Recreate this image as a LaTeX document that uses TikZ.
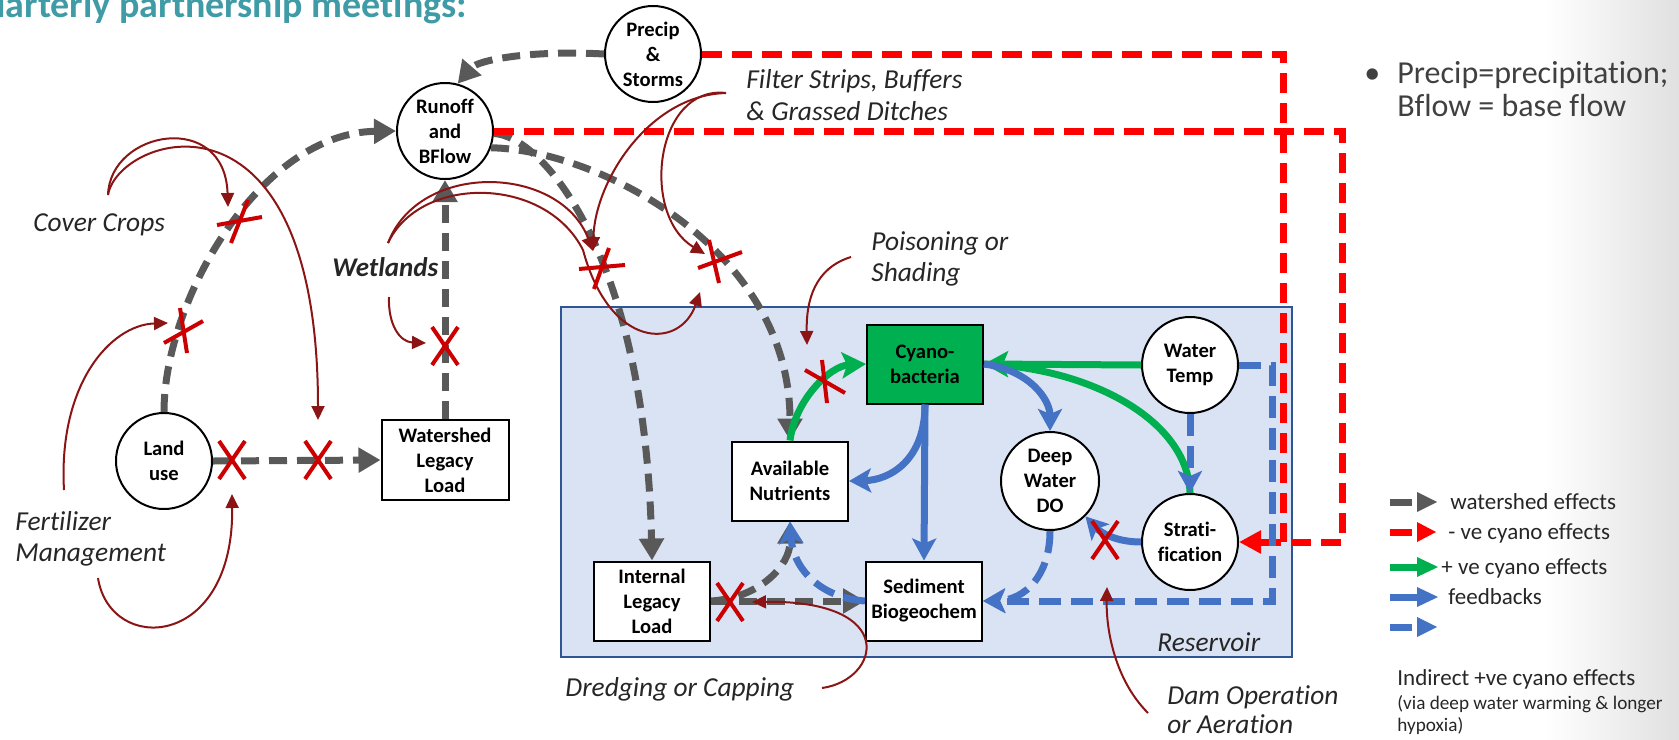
\documentclass[tikz,border=0pt]{standalone}
\usepackage{fontspec}
\setmainfont{Carlito}[Ligatures={NoCommon}]
\usetikzlibrary{arrows.meta}
\definecolor{wsgray}{RGB}{89,89,89}
\definecolor{negred}{RGB}{255,0,0}
\definecolor{posgreen}{RGB}{0,176,80}
\definecolor{fbblue}{RGB}{68,114,196}
\definecolor{mgmtred}{RGB}{139,21,21}
\definecolor{xred}{RGB}{204,0,0}
\definecolor{resfill}{RGB}{218,227,243}
\definecolor{resline}{RGB}{47,85,151}
\definecolor{titleteal}{RGB}{63,155,166}
\newcommand\dgnode{\fontsize{10.3pt}{12.5pt}\selectfont\bfseries}
\newcommand\dglbl{\fontsize{13.7pt}{15.5pt}\selectfont\itshape}
\newcommand\dgleg{\fontsize{11.5pt}{13pt}\selectfont}
\begin{document}
\begin{tikzpicture}[x=0.5pt,y=-0.5pt,
  circ/.style={circle, draw=black, line width=1pt, fill=white, minimum size=48pt, inner sep=0pt, align=center, font=\dgnode},
  box/.style={rectangle, draw=black, line width=1pt, fill=white, minimum width=58pt, minimum height=39.5pt, inner sep=0pt, align=center, font=\dgnode},
  wsarrow/.style={draw=wsgray, line width=3.5pt, dash pattern=on 9pt off 5pt, -{Triangle[length=11pt,width=12pt]}},
  negdash/.style={draw=negred, line width=3.5pt, dash pattern=on 10pt off 5pt},
  negarrow/.style={negdash, -{Triangle[length=11pt,width=11pt]}},
  posline/.style={draw=posgreen, line width=3.5pt},
  posarrow/.style={posline, -{Stealth[length=12pt,width=13pt,inset=2.5pt]}},
  fbarrow/.style={draw=fbblue, line width=3.5pt, -{Stealth[length=11pt,width=12pt,inset=2.5pt]}},
  fbdash/.style={fbarrow, dash pattern=on 11pt off 5pt},
  mgmt/.style={draw=mgmtred, line width=1pt, -{Triangle[length=7pt,width=6.5pt]}},
  xmark/.style={draw=xred, line width=2pt},
  lbl/.style={anchor=base west, inner sep=0pt, font=\dglbl, text=black!85},
  legtext/.style={anchor=base west, inner sep=0pt, font=\dgleg, text=black!85},
  xup/.pic={\draw[xmark] (-13,-19) -- (13,19) (13,-19) -- (-13,19);}
]
\useasboundingbox (0,0) rectangle (1679,739);
\shade[left color=white,right color=black!12] (1545,0) rectangle (1679,739);
\node[anchor=base west, inner sep=0pt, font=\fontsize{19pt}{19pt}\selectfont\bfseries, text=titleteal] (title) at (-41,18) {Quarterly partnership meetings:};

% reservoir
\draw[fill=resfill, draw=resline, line width=1pt] (561,307) rectangle (1292,657);
\node[lbl] (reslbl) at (1157,651) {Reservoir};

% nodes
\node[circ] (precip) at (653,54) {Precip\\\&\\Storms};
\node[circ] (runoff) at (445,131) {Runoff\\and\\BFlow};
\node[circ] (land) at (164,461) {Land\\use};
\node[box, minimum width=63.5pt, minimum height=40pt] (ws) at (445,460) {Watershed\\Legacy\\Load};
\node[box, fill=posgreen] (cyano) at (925,364) {Cyano-\\bacteria};
\node[box] (avail) at (790,481) {Available\\Nutrients};
\node[box] (internal) at (652,601) {Internal\\Legacy\\Load};
\node[box] (sed) at (924,601) {Sediment\\Biogeochem};
\node[circ, minimum size=49pt] (deepdo) at (1050,481) {Deep\\Water\\DO};
\node[circ] (wtemp) at (1190,365) {Water\\Temp};
\node[circ] (strati) at (1190,542) {Strati-\\fication};

% bend coordinates
\coordinate (rc1) at (1283,54);
\coordinate (rc2) at (1283,542);
\coordinate (rc3) at (1342,131);
\coordinate (rc4) at (1342,542);
\coordinate (bb1) at (1272,365);
\coordinate (bb2) at (1272,601);

% watershed (gray) connectors
\draw[wsarrow] (land.east) -- (ws.west);
\draw[wsarrow] (land.north) .. controls (164,300) and (260,133) .. (runoff.west);
\draw[wsarrow] (ws.north) -- (runoff.south);
\draw[wsarrow] (precip.west) .. controls (530,50) and (478,60) .. (runoff.75);
\draw[wsarrow] (runoff.-3) .. controls (540,135) and (645,250) .. (internal.north);
\draw[wsarrow] (runoff.-20) .. controls (600,150) and (790,250) .. (avail.north);
\draw[wsarrow] (internal.east) -- (sed.west);
\draw[wsarrow] (internal.east) .. controls (760,598) and (790,565) .. (avail.south);

% negative (red) connectors
\draw[negdash] (precip.east) -- (rc1) -- (rc2);
\draw[negarrow] (runoff.east) -- (rc3) -- (rc4) -- (strati.east);

% positive (green)
\draw[posarrow] (wtemp.west) -- (cyano.east);
\draw[posline] (strati.north) .. controls (1188,420) and (1090,368) .. (cyano.east);
\draw[posarrow] (avail.north) .. controls (795,400) and (830,366) .. (cyano.west);

% feedbacks (blue)
\draw[fbarrow] (cyano.south) .. controls (925,460) and (890,480) .. (avail.east);
\draw[fbarrow] (cyano.south) -- (sed.north);
\draw[fbarrow] (cyano.east) .. controls (1030,370) and (1050,400) .. (deepdo.north);
\draw[fbdash] (wtemp.south) -- (strati.north);
\draw[fbarrow] (strati.west) .. controls (1115,542) and (1100,532) .. (deepdo.-45);
\draw[fbdash] (deepdo.south) .. controls (1050,575) and (1025,600) .. (sed.east);
\draw[fbdash] (wtemp.east) -- (bb1) -- (bb2) -- (sed.east);
\draw[fbdash] (sed.west) .. controls (822,598) and (793,570) .. (avail.south);

% management arrows (dark red)
\coordinate (cc0) at (108,195);
\coordinate (cc1) at (228,207);
\coordinate (cc2) at (318,420);
\coordinate (fe0) at (64,490);
\coordinate (fe1) at (168,323);
\coordinate (fe2) at (98,578);
\coordinate (fe3) at (232,494);
\coordinate (we0) at (388,243);
\coordinate (wemid) at (583,250);
\coordinate (xatip) at (593,251);
\coordinate (xbtip) at (705,254);
\coordinate (we2) at (700,292);
\coordinate (we3) at (389,297);
\coordinate (we4) at (426,343);
\coordinate (fs0) at (726,93);
\coordinate (po0) at (851,257);
\coordinate (po1) at (807,345);
\coordinate (dr0) at (822,688);
\coordinate (dr1) at (752,602);
\coordinate (dm0) at (1148,713);
\coordinate (dm1) at (1107,587);

\draw[mgmt] (cc0) .. controls (110,130) and (225,110) .. (cc1);
\draw[mgmt] (cc0) .. controls (118,135) and (318,70) .. (cc2);
\draw[mgmt] (fe0) .. controls (58,385) and (110,325) .. (fe1);
\draw[mgmt] (fe2) .. controls (110,655) and (234,650) .. (fe3);
\draw[mgmt] (we0) .. controls (420,160) and (560,165) .. (xatip);
\draw[mgmt] (we0) .. controls (420,175) and (545,175) .. (wemid) .. controls (610,350) and (680,350) .. (we2);
\draw[mgmt] (we3) .. controls (388,325) and (400,342) .. (we4);
\draw[mgmt] (fs0) .. controls (650,95) and (595,180) .. (xatip);
\draw[mgmt] (fs0) .. controls (655,85) and (640,215) .. (xbtip);
\draw[mgmt] (po0) .. controls (815,268) and (806,300) .. (po1);
\draw[mgmt] (dr0) .. controls (880,680) and (900,600) .. (dr1);
\draw[mgmt] (dm0) .. controls (1115,680) and (1106,630) .. (dm1);

% crosses
\pic at (232,460) {xup};
\pic at (318,460) {xup};
\pic at (445,346) {xup};
\pic at (730,602) {xup};
\pic at (1105,540) {xup};
\draw[xmark] (164,343) -- (203,321) (180,308) -- (187,353);
\draw[xmark] (217,225) -- (262,217) (231,243) -- (248,200);
\draw[xmark] (579,269) -- (625,265) (594,289) -- (609,248);
\draw[xmark] (698,268) -- (742,252) (709,240) -- (719,283);
\draw[xmark] (805,370) -- (845,393) (822,360) -- (827,403);

% labels
\node[lbl] (lcover) at (33,231) {Cover Crops};
\node[lbl, font=\fontsize{13.5pt}{15.5pt}\selectfont\bfseries\itshape] (lwet) at (332,276) {Wetlands};
\node[lbl] (lfert1) at (15,530) {Fertilizer};
\node[lbl] (lfert2) at (15,561) {Management};
\node[lbl] (lfilt1) at (746,88) {Filter Strips, Buffers};
\node[lbl] (lfilt2) at (746,120) {\& Grassed Ditches};
\node[lbl] (lpois1) at (871,250) {Poisoning or};
\node[lbl] (lpois2) at (871,281) {Shading};
\node[lbl] (ldredge) at (565,696) {Dredging or Capping};
\node[lbl] (ldam1) at (1167,704) {Dam Operation};
\node[lbl] (ldam2) at (1167,733) {or Aeration};

% bullet note
\node[anchor=base west, inner sep=0pt, font=\fontsize{16pt}{17pt}\selectfont, text=black!75] (bul) at (1364,83) {•};
\node[anchor=base west, inner sep=0pt, font=\fontsize{16pt}{17pt}\selectfont, text=black!75] (note1) at (1397,83) {Precip=precipitation;};
\node[anchor=base west, inner sep=0pt, font=\fontsize{16pt}{17pt}\selectfont, text=black!75] (note2) at (1397,116) {Bflow = base flow};

% legend
\draw[line width=3.5pt, wsgray] (1390,502) -- (1412,502);
\fill[wsgray] (1417,492) -- (1437,502) -- (1417,512) -- cycle;
\draw[line width=3.5pt, negred] (1390,532) -- (1412,532);
\fill[negred] (1417,522) -- (1436,532) -- (1417,542) -- cycle;
\draw[line width=3.5pt, posgreen] (1390,567) -- (1420,567);
\fill[posgreen] (1417,557) -- (1438,567) -- (1417,577) -- cycle;
\draw[line width=3.5pt, fbblue] (1390,597) -- (1420,597);
\fill[fbblue] (1417,587) -- (1438,597) -- (1417,607) -- cycle;
\draw[line width=3.5pt, fbblue] (1390,627) -- (1412,627);
\fill[fbblue] (1417,617) -- (1437,627) -- (1417,637) -- cycle;
\node[legtext] (leg1) at (1450,509) {watershed effects};
\node[legtext] (leg2) at (1448,539) {- ve cyano effects};
\node[legtext] (leg3) at (1441,574) {+ ve cyano effects};
\node[legtext] (leg4) at (1448,604) {feedbacks};
\node[legtext] (leg5) at (1397,685) {Indirect +ve cyano effects};
\node[legtext, font=\fontsize{9.6pt}{11pt}\selectfont] (leg6) at (1397,709) {(via deep water warming \& longer};
\node[legtext, font=\fontsize{9.6pt}{11pt}\selectfont] (leg7) at (1397,731) {hypoxia)};
\end{tikzpicture}
\end{document}
